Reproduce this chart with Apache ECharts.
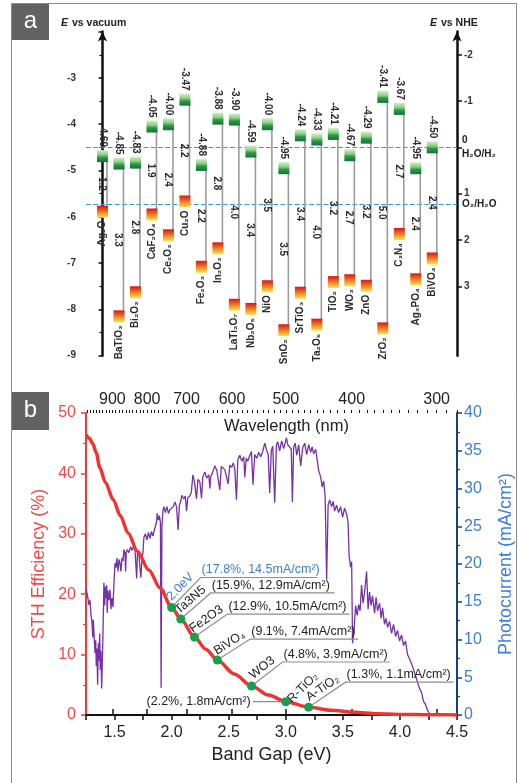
<!DOCTYPE html>
<html>
<head>
<meta charset="utf-8">
<script src="https://cdn.jsdelivr.net/npm/echarts@6/dist/echarts.min.js"></script>
<style>
html, body { margin: 0; padding: 0; background: #fff; }
#main { width: 518px; height: 783px; }
</style>
</head>
<body>
<div id="main"></div>
<script>
// ---- panel a: band edges (eV vs vacuum) ----
var materials = ['Ag₂O', 'BaTiO₃', 'Bi₂O₃', 'CaF₂O₄', 'Ce₂O₃', 'Cu₂O', 'Fe₂O₃', 'In₂O₃', 'LaTi₂O₇', 'Nb₂O₅', 'NiO',
    'SnO₂', 'SrTiO₃', 'Ta₂O₅', 'TiO₂', 'WO₃', 'ZnO', 'ZrO₂', 'C₃N₄', 'Ag₃PO₄', 'BiVO₄'];
var cbEdge = [-4.69, -4.85, -4.83, -4.05, -4.00, -3.47, -4.88, -3.88, -3.90, -4.59, -4.00,
    -4.95, -4.24, -4.33, -4.21, -4.67, -4.29, -3.41, -3.67, -4.95, -4.50];
var bandGap = [1.2, 3.3, 2.8, 1.9, 2.4, 2.2, 2.2, 2.8, 4.0, 3.4, 3.5,
    3.5, 3.4, 4.0, 3.2, 2.7, 3.2, 5.0, 2.7, 2.4, 2.4];
var vacLabels = [-9, -8, -7, -6, -5, -4, -3];
var nheTicks = [-2, -1, 0, 1, 2, 3];
var nheLabels = [-2, -1, 1, 2, 3];
var redoxLevels = [-4.5, -5.73];   // H2O/H2 and O2/H2O vs vacuum

// ---- panel b ----
var sthGap = [1.25, 1.28, 1.31, 1.34, 1.37, 1.42, 1.49, 1.55, 1.62, 1.7, 1.8, 1.9, 2.0, 2.08, 2.2, 2.3, 2.4,
    2.55, 2.7, 2.85, 3.0, 3.2, 3.4, 3.6, 3.8, 4.0, 4.25, 4.5];
var sthEff = [46.4, 45.8, 44.9, 43.4, 41.0, 38.5, 35.6, 33.0, 30.1, 27.1, 24.0, 21.0, 17.8, 15.9, 12.9, 10.9, 9.1,
    6.8, 4.8, 3.3, 2.2, 1.3, 0.8, 0.45, 0.22, 0.1, 0.03, 0.0];

// photocurrent (mA/cm2) vs band gap (eV)
var spectrum = [
    [1.250,16.8],[1.263,15.8],[1.276,14.6],[1.285,15.2],[1.294,13.2],[1.302,12.4],[1.309,10.3],[1.314,12.6],
    [1.320,10.8],[1.329,8.2],[1.335,9.9],[1.340,6.5],[1.346,8.8],[1.352,4.0],[1.358,9.5],[1.364,7.2],
    [1.370,10.8],[1.375,6.0],[1.381,8.5],[1.387,3.5],[1.393,7.0],[1.399,11.0],[1.407,17.5],[1.414,14.5],
    [1.419,17.0],[1.425,15.5],[1.431,17.2],[1.436,13.5],[1.442,16.5],[1.451,15.2],[1.460,16.6],[1.469,14.0],
    [1.477,15.5],[1.486,14.3],[1.495,17.5],[1.504,20.1],[1.512,19.5],[1.521,20.8],[1.530,19.0],[1.539,20.6],
    [1.547,20.2],[1.556,19.0],[1.565,20.8],[1.574,20.4],[1.582,21.9],[1.591,21.5],[1.597,19.0],[1.603,21.6],
    [1.613,21.9],[1.626,21.5],[1.641,22.3],[1.652,21.8],[1.666,22.3],[1.679,21.9],[1.694,18.1],[1.701,21.5],
    [1.714,21.2],[1.722,19.6],[1.731,18.2],[1.740,20.8],[1.749,21.5],[1.757,23.5],[1.770,24.0],[1.784,23.2],
    [1.797,24.2],[1.810,23.4],[1.823,24.3],[1.836,23.7],[1.849,24.5],[1.860,24.4],[1.867,25.5],[1.874,26.7],
    [1.884,25.8],[1.893,26.4],[1.902,25.5],[1.908,3.6],[1.915,25.0],[1.924,27.0],[1.932,27.6],[1.945,26.8],
    [1.959,27.6],[1.972,26.7],[1.985,27.2],[2.002,27.0],[2.015,27.6],[2.029,28.2],[2.043,27.6],[2.057,24.5],
    [2.068,27.8],[2.078,28.2],[2.090,29.1],[2.107,28.6],[2.120,29.0],[2.131,27.0],[2.142,28.8],[2.160,29.0],
    [2.173,29.5],[2.186,31.8],[2.199,31.0],[2.218,28.6],[2.230,31.2],[2.247,30.9],[2.262,28.7],[2.273,31.5],
    [2.291,32.2],[2.308,31.4],[2.326,31.8],[2.335,30.0],[2.343,31.6],[2.361,32.2],[2.378,33.0],[2.396,32.4],
    [2.422,29.8],[2.435,32.9],[2.448,33.1],[2.466,32.5],[2.483,32.6],[2.495,30.6],[2.510,33.1],[2.527,32.8],
    [2.540,33.4],[2.553,32.7],[2.568,28.5],[2.580,33.8],[2.597,34.4],[2.615,33.6],[2.632,34.2],[2.641,31.5],
    [2.654,34.0],[2.667,33.6],[2.685,34.4],[2.699,34.9],[2.713,30.5],[2.728,34.5],[2.746,34.0],[2.763,34.8],
    [2.781,34.2],[2.798,34.9],[2.816,36.0],[2.833,35.0],[2.846,34.5],[2.859,29.4],[2.873,35.0],[2.886,35.6],
    [2.903,28.1],[2.918,35.8],[2.929,36.2],[2.947,35.0],[2.964,36.3],[2.982,35.3],[3.006,36.7],[3.017,35.8],
    [3.034,36.0],[3.048,35.2],[3.058,28.2],[3.069,35.5],[3.083,36.0],[3.096,34.4],[3.113,35.8],[3.131,33.0],
    [3.148,35.4],[3.166,36.0],[3.183,34.5],[3.201,35.8],[3.218,34.8],[3.231,35.5],[3.244,34.6],[3.262,35.2],
    [3.275,33.8],[3.288,32.4],[3.306,31.5],[3.319,30.2],[3.332,31.0],[3.345,29.0],[3.358,17.9],[3.371,27.8],
    [3.384,28.5],[3.402,27.6],[3.415,28.3],[3.428,27.0],[3.445,27.8],[3.463,26.8],[3.480,27.6],[3.498,26.2],
    [3.515,27.4],[3.533,26.6],[3.546,25.5],[3.555,21.0],[3.568,19.6],[3.577,20.3],[3.585,9.5],[3.599,11.5],
    [3.612,14.5],[3.625,13.2],[3.638,14.6],[3.651,13.8],[3.664,17.2],[3.677,14.8],[3.690,16.2],[3.708,19.0],
    [3.721,14.0],[3.734,16.3],[3.747,14.5],[3.760,15.8],[3.778,13.5],[3.791,15.6],[3.804,13.8],[3.822,14.8],
    [3.835,12.8],[3.848,14.2],[3.865,12.0],[3.878,12.8],[3.892,11.6],[3.909,12.4],[3.927,10.8],[3.944,12.0],
    [3.962,10.4],[3.979,11.2],[3.997,9.8],[4.014,10.6],[4.032,9.2],[4.049,9.8],[4.067,8.0],[4.084,8.2],
    [4.102,6.8],[4.119,7.0],[4.137,5.2],[4.154,5.0],[4.172,3.5],[4.189,3.0],[4.207,1.8],[4.224,1.4],
    [4.242,0.6],[4.259,0.2],[4.277,0],[4.5,0]
];

// annotated materials on the STH curve
var annoGap = [2.0, 2.08, 2.2, 2.4, 2.7, 3.0, 3.2];
var annoSTH = [17.8, 15.9, 12.9, 9.1, 4.8, 2.2, 1.3];
var annoJ = [14.5, 12.9, 10.5, 7.4, 3.9, 1.8, 1.1];
var annoName = ['2.0eV', 'Ta3N5', 'Fe2O3', 'BiVO₄', 'WO3', 'R-TiO₂', 'A-TiO₂'];

var gapLabels = [1.5, 2.0, 2.5, 3.0, 3.5, 4.0, 4.5];
var wlLabels = [900, 800, 700, 600, 500, 400, 300];

var FONT = '"Liberation Sans", Arial, Helvetica, sans-serif';
var BLUE = '#3c7dd6';

// leader geometry for the callouts (px): diagonal run/rise, then horizontal length
var leaders = [
    {dx: 29, dy: 30, len: 117},
    {dx: 30, dy: 26, len: 124},
    {dx: 33, dy: 23, len: 122},
    {dx: 33, dy: 21, len: 108},
    {dx: 31, dy: 24, len: 107},
    {dx: 0, dy: 0, len: -33},
    {dx: 37, dy: 25, len: 108}
];

var wlMinor = [];
for (var w = 280; w <= 980; w += 10) wlMinor.push(w);

var greenFill = new echarts.graphic.LinearGradient(0, 0, 0, 1, [
    {offset: 0, color: '#d6eec9'}, {offset: 0.4, color: '#86cb80'},
    {offset: 0.6, color: '#2f9a47'}, {offset: 1, color: '#0d7432'}
]);
var redFill = new echarts.graphic.LinearGradient(0, 0, 0, 1, [
    {offset: 0, color: '#d5161b'}, {offset: 0.5, color: '#f07b22'}, {offset: 1, color: '#f8e64c'}
]);

function renderBand(params, api) {
    var i = api.value(0), cb = api.value(1), gap = api.value(2);
    var top = api.coord([i, cb]);
    var bot = api.coord([i, cb - gap]);
    var bw = 11, bh = 12;
    var font = 'bold 10px ' + FONT;
    var lx = top[0] + 4.5;
    return {
        type: 'group',
        children: [
            {type: 'line', shape: {x1: lx, y1: top[1], x2: lx, y2: bot[1]},
                style: {stroke: '#9c9c9c', lineWidth: 1.6}},
            {type: 'rect', shape: {x: top[0] - bw / 2, y: top[1] - bh / 2, width: bw, height: bh},
                style: {fill: greenFill}},
            {type: 'rect', shape: {x: bot[0] - bw / 2, y: bot[1] - bh / 2, width: bw, height: bh},
                style: {fill: redFill}},
            {type: 'text', x: top[0], y: top[1] - bh / 2 - 3, rotation: -Math.PI / 2,
                style: {text: cb.toFixed(2), font: font, fill: '#2a2a2a',
                    align: 'right', textAlign: 'right', verticalAlign: 'middle', textVerticalAlign: 'middle'}},
            {type: 'text', x: top[0] - 1, y: (top[1] + bot[1]) / 2, rotation: -Math.PI / 2,
                style: {text: gap.toFixed(1), font: font, fill: '#2a2a2a',
                    align: 'center', textAlign: 'center', verticalAlign: 'middle', textVerticalAlign: 'middle'}},
            {type: 'text', x: bot[0], y: bot[1] + bh / 2 + 3, rotation: Math.PI / 2,
                style: {text: materials[i], font: font, fill: '#2a2a2a',
                    align: 'right', textAlign: 'right', verticalAlign: 'middle', textVerticalAlign: 'middle'}}
        ]
    };
}

function renderAnno(params, api) {
    var k = params.dataIndex;
    var p = api.coord([api.value(0), api.value(1)]);
    var L = leaders[k];
    var color = k === 0 ? BLUE : '#222';
    var font = '12.5px ' + FONT;
    var text = '(' + annoSTH[k].toFixed(1) + '%, ' + annoJ[k].toFixed(1) + 'mA/cm²)';
    var lineStyle = {stroke: '#8e8e8e', lineWidth: 1.2, fill: null};
    if (L.len < 0) {
        return {type: 'group', children: [
            {type: 'line', shape: {x1: p[0], y1: p[1], x2: p[0] + L.len, y2: p[1]}, style: lineStyle},
            {type: 'text', x: p[0] + L.len - 2, y: p[1],
                style: {text: text, font: font, fill: color, align: 'right', textAlign: 'right',
                    verticalAlign: 'middle', textVerticalAlign: 'middle'}},
            {type: 'text', x: p[0] + 17, y: p[1] - 14, rotation: Math.PI / 4,
                style: {text: annoName[k], font: font, fill: color, align: 'center', textAlign: 'center',
                    verticalAlign: 'middle', textVerticalAlign: 'middle'}}
        ]};
    }
    var cx = p[0] + L.dx, cy = p[1] - L.dy;
    var ang = Math.atan2(L.dy, L.dx);
    var mx = p[0] + L.dx / 2 - 1.5 * Math.sin(ang), my = p[1] - L.dy / 2 - 1.5 * Math.cos(ang);
    return {type: 'group', children: [
        {type: 'polyline', shape: {points: [[p[0], p[1]], [cx, cy], [cx + L.len, cy]]}, style: lineStyle},
        {type: 'text', x: cx + 1, y: cy - 1,
            style: {text: text, font: font, fill: color, align: 'left', textAlign: 'left',
                verticalAlign: 'bottom', textVerticalAlign: 'bottom'}},
        {type: 'text', x: mx, y: my, rotation: ang,
            style: {text: annoName[k], font: font, fill: color, align: 'center', textAlign: 'center',
                verticalAlign: 'bottom', textVerticalAlign: 'bottom'}}
    ]};
}

var chart = echarts.init(document.getElementById('main'));

var option = {
    animation: false,
    textStyle: {fontFamily: FONT},
    grid: [
        {left: 86, right: 61, top: 31.6, bottom: 427.3, outerBoundsMode: 'none'},
        {left: 86, right: 61, top: 413, bottom: 68, outerBoundsMode: 'none'}
    ],
    xAxis: [
        {gridIndex: 0, type: 'value', min: -1, max: 21.5, show: false},
        {
            gridIndex: 1, type: 'value', position: 'bottom', min: 1.25, max: 4.5, interval: 0.25,
            axisLine: {lineStyle: {color: '#111', width: 2}},
            axisTick: {length: 5, lineStyle: {color: '#111', width: 1.5}},
            axisLabel: {customValues: gapLabels, margin: 10, fontSize: 16, color: '#222',
                formatter: function (v) { return v.toFixed(1); }},
            splitLine: {show: false},
            name: 'Band Gap (eV)', nameLocation: 'middle', nameGap: 31, nameMoveOverlap: false,
            nameTextStyle: {fontSize: 18, color: '#222'}
        },
        {
            gridIndex: 1, type: 'log', position: 'top', min: 280, max: 984, inverse: true,
            axisLine: {lineStyle: {color: '#111', width: 2}},
            axisTick: {customValues: wlLabels, length: 6, lineStyle: {color: '#111', width: 1.5}},
            axisLabel: {customValues: wlLabels, margin: 5, fontSize: 16, color: '#222'},
            splitLine: {show: false},
            name: 'Wavelength (nm)', nameLocation: 'middle', nameGap: -22, nameMoveOverlap: false,
            nameTextStyle: {fontSize: 16.5, color: '#222', padding: [0, 0, 0, 30]}
        },
        {
            gridIndex: 1, type: 'log', position: 'top', min: 280, max: 984, inverse: true,
            axisLine: {show: false},
            axisTick: {customValues: wlMinor, length: 3, lineStyle: {color: '#111', width: 1}},
            axisLabel: {show: false},
            splitLine: {show: false}
        }
    ],
    yAxis: [
        {
            gridIndex: 0, type: 'value', position: 'left', min: -9, max: -2, interval: 1,
            axisLine: {symbol: ['none', 'arrow'], symbolSize: [7, 10], lineStyle: {color: '#111', width: 2.5}},
            axisTick: {length: 4, lineStyle: {color: '#111', width: 1.5}},
            minorTick: {show: true, splitNumber: 2, length: 3, lineStyle: {color: '#111', width: 1.2}},
            axisLabel: {customValues: vacLabels, margin: 10, fontSize: 10, fontWeight: 'bold', color: '#333'},
            splitLine: {show: false}
        },
        {
            gridIndex: 0, type: 'value', position: 'right', min: -2.5, max: 4.5, inverse: true,
            axisLine: {symbol: ['none', 'arrow'], symbolSize: [7, 10], lineStyle: {color: '#111', width: 2.5}},
            axisTick: {customValues: nheTicks, length: 5, lineStyle: {color: '#111', width: 1.5}},
            axisLabel: {customValues: nheLabels, margin: 7, fontSize: 10, fontWeight: 'bold', color: '#333'},
            splitLine: {show: false}
        },
        {
            gridIndex: 1, type: 'value', position: 'left', min: 0, max: 50, interval: 10,
            axisLine: {lineStyle: {color: '#ef3a38', width: 2}},
            axisTick: {length: 5, lineStyle: {color: '#ef3a38', width: 1.5}},
            minorTick: {show: true, splitNumber: 2, length: 3, lineStyle: {color: '#ef3a38', width: 1.2}},
            axisLabel: {margin: 10, fontSize: 16, color: '#f04a48'},
            splitLine: {show: false},
            name: 'STH Efficiency (%)', nameLocation: 'middle', nameGap: 38, nameMoveOverlap: false,
            nameTextStyle: {fontSize: 18, color: '#f04a48'}
        },
        {
            gridIndex: 1, type: 'value', position: 'right', min: 0, max: 40, interval: 5,
            axisLine: {lineStyle: {color: '#1d3c78', width: 2}},
            axisTick: {length: 5, lineStyle: {color: '#1d3c78', width: 1.5}},
            minorTick: {show: true, splitNumber: 2, length: 3, lineStyle: {color: '#1d3c78', width: 1.2}},
            axisLabel: {margin: 7, fontSize: 16, color: BLUE},
            splitLine: {show: false},
            name: 'Photocurrent (mA/cm²)', nameLocation: 'middle', nameGap: 40, nameMoveOverlap: false,
            nameTextStyle: {fontSize: 18, color: BLUE}
        }
    ],
    series: [
        {
            type: 'custom', xAxisIndex: 0, yAxisIndex: 0, clip: false, z: 3,
            renderItem: renderBand,
            data: materials.map(function (m, i) { return [i, cbEdge[i], bandGap[i]]; }),
            markLine: {
                silent: true, symbol: ['none', 'none'], z: 2,
                lineStyle: {type: 'dashed', color: '#3b8fd6', width: 1.2},
                label: {show: true, position: 'end', distance: 5, fontSize: 10, fontWeight: 'bold',
                    color: '#222', lineHeight: 14},
                data: [
                    {yAxis: redoxLevels[0], label: {formatter: '0\nH₂O/H₂'}},
                    {yAxis: redoxLevels[1], label: {formatter: 'O₂/H₂O'}}
                ]
            }
        },
        {
            type: 'line', xAxisIndex: 1, yAxisIndex: 3, z: 2,
            data: spectrum, showSymbol: false, symbol: 'none',
            lineStyle: {color: '#7532a6', width: 1.3}
        },
        {
            type: 'line', xAxisIndex: 1, yAxisIndex: 2, z: 3,
            data: sthGap.map(function (g, i) { return [g, sthEff[i]]; }),
            smooth: 0.3, smoothMonotone: 'x', showSymbol: false, symbol: 'none',
            lineStyle: {color: '#ef3330', width: 3.5}
        },
        {
            type: 'custom', xAxisIndex: 1, yAxisIndex: 2, clip: false, z: 4,
            renderItem: renderAnno,
            data: annoGap.map(function (g, i) { return [g, annoSTH[i]]; })
        },
        {
            type: 'scatter', xAxisIndex: 1, yAxisIndex: 2, z: 5,
            symbolSize: 9,
            itemStyle: {color: '#17a04b', opacity: 1},
            data: annoGap.map(function (g, i) { return [g, annoSTH[i]]; })
        }
    ],
    graphic: {
        elements: [
            {type: 'rect', silent: true, shape: {x: 11.5, y: 3.5, width: 505, height: 790},
                style: {fill: null, stroke: '#8a8a8a', lineWidth: 1}},
            {type: 'rect', silent: true, shape: {x: 12, y: 4, width: 37, height: 36}, style: {fill: '#626262'}},
            {type: 'text', silent: true, x: 30.5, y: 21,
                style: {text: 'a', font: '24px ' + FONT, fill: '#fff', align: 'center', textAlign: 'center',
                    verticalAlign: 'middle', textVerticalAlign: 'middle'}},
            {type: 'rect', silent: true, shape: {x: 12, y: 392, width: 37, height: 38}, style: {fill: '#626262'}},
            {type: 'text', silent: true, x: 30.5, y: 410,
                style: {text: 'b', font: '24px ' + FONT, fill: '#fff', align: 'center', textAlign: 'center',
                    verticalAlign: 'middle', textVerticalAlign: 'middle'}},
            {type: 'text', silent: true, x: 61, y: 23,
                style: {text: 'E', font: 'italic bold 10.5px ' + FONT, fill: '#222',
                    verticalAlign: 'middle', textVerticalAlign: 'middle'}},
            {type: 'text', silent: true, x: 72, y: 23,
                style: {text: 'vs vacuum', font: 'bold 10.5px ' + FONT, fill: '#222',
                    verticalAlign: 'middle', textVerticalAlign: 'middle'}},
            {type: 'text', silent: true, x: 430, y: 23,
                style: {text: 'E', font: 'italic bold 10.5px ' + FONT, fill: '#222',
                    verticalAlign: 'middle', textVerticalAlign: 'middle'}},
            {type: 'text', silent: true, x: 441, y: 23,
                style: {text: 'vs NHE', font: 'bold 10.5px ' + FONT, fill: '#222',
                    verticalAlign: 'middle', textVerticalAlign: 'middle'}}
        ]
    }
};

chart.setOption(option);
</script>
</body>
</html>
